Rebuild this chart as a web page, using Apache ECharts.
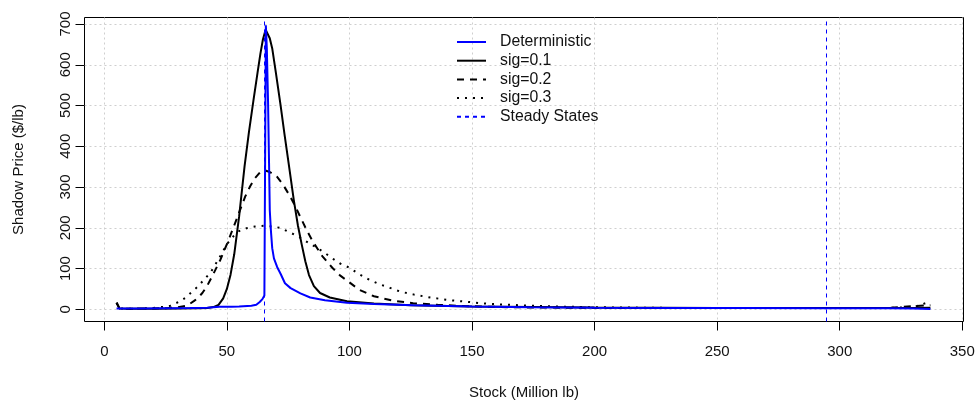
<!DOCTYPE html>
<html>
<head>
<meta charset="utf-8">
<script src="https://cdn.jsdelivr.net/npm/echarts@6/dist/echarts.min.js"></script>
<style>
  html, body { margin: 0; padding: 0; background: #ffffff; }
  #chart { width: 977px; height: 404px; }
</style>
</head>
<body>
<div id="chart"></div>
<script>
// Axis ticks
const xTicks = [0, 50, 100, 150, 200, 250, 300, 350];
const yTicks = [0, 100, 200, 300, 400, 500, 600, 700];

// Steady-state stock levels (vertical reference lines)
const steadyStates = [65.3, 294.6];

// Deterministic shadow price
const detStock = [5, 8, 15, 25, 35, 42, 47, 52, 55, 60, 62, 63.4, 64.5, 65.3, 65.6, 65.9, 66.3, 66.8, 67.2, 67.5, 68.0, 68.5, 69.2, 70.5, 72, 73.7, 76, 80, 84, 90, 99, 110, 126, 150, 174, 200, 230, 260, 295, 320, 330, 337];
const detPrice = [2, 2, 2, 2.5, 3, 4, 6, 6.5, 7, 9, 11, 18, 25, 34, 36, 697, 640, 509, 360, 243, 190, 150, 125, 104, 86, 64, 52, 39, 29, 22, 16, 13, 10, 7, 5, 4, 3.5, 3, 2.5, 2.5, 2, 1];

// sig = 0.1
const sig1Stock = [5, 6.2, 10, 20, 30, 38, 42, 44.5, 46.6, 48.5, 50, 51.5, 53, 55, 57.2, 59, 60.9, 62.5, 63.7, 64.7, 65.8, 66.6, 67.5, 68.5, 70, 71.9, 73.5, 75.3, 77.3, 79, 80.5, 82, 83.5, 85.5, 88, 92, 99, 110, 125, 150, 200, 250, 300, 320, 330, 337];
const sig1Price = [16, 2, 1.5, 1.5, 2, 2.5, 3.5, 5.5, 11, 27, 50, 85, 135, 228, 350, 435, 515, 580, 628, 662, 686, 683, 665, 640, 580, 501, 430, 354, 268, 205, 160, 118, 84, 57, 40, 29, 20, 14, 10, 7, 4.5, 3.5, 3, 3, 3, 4];

// sig = 0.2
const sig2Stock = [5, 6.2, 10, 20, 26, 30, 33, 35, 36.5, 38, 40, 42, 44.5, 47.3, 50.7, 53, 55.4, 57.5, 59.5, 61.5, 63.5, 65.4, 67.5, 70.5, 73, 75.5, 77.5, 80, 82.5, 85, 89, 93, 96, 100, 104, 110, 118, 126, 136, 147, 167, 200, 250, 300, 320, 330, 337];
const sig2Price = [16, 2, 1.5, 2, 3, 5, 8, 14, 20, 27, 40, 58, 87, 121, 170, 206, 244, 277, 302, 322, 336, 341, 337, 325, 305, 280, 258, 226, 195, 167, 130, 102, 84, 66, 48, 32, 21, 15, 11, 8, 5, 3.5, 3, 3, 3.5, 8, 10];

// sig = 0.3
const sig3Stock = [5, 6.2, 10, 15, 20, 24, 27, 30.3, 33, 35, 38, 41.2, 43.5, 46, 48, 50, 52.8, 55, 58, 61.5, 65.4, 68.5, 71.8, 74.5, 78.7, 82, 86.9, 89.6, 92.3, 96, 100, 104, 107.3, 112, 116.8, 121, 126.4, 133, 140, 147, 153.7, 160, 167.3, 180, 200, 230, 260, 300, 320, 330, 337];
const sig3Price = [16, 2, 1.5, 2, 3.5, 6, 9, 18, 28, 39, 55, 76, 92, 117, 138, 160, 180, 192, 199, 203, 205, 203, 200, 192, 180, 168, 150, 140, 128, 113, 102, 86, 75, 62, 52, 43, 36, 29, 23, 19, 15, 12.5, 10.5, 7.5, 5, 3.5, 3, 3, 3.5, 5, 19];

const FONT = '"Liberation Sans", Arial, Helvetica, sans-serif';
const TEXT = '#111111';

function pairs(xs, ys) {
  return xs.map(function (x, i) { return [x, ys[i]]; });
}

const chart = echarts.init(document.getElementById('chart'), null, { renderer: 'canvas' });

const gridLine = { show: true, lineStyle: { color: '#cfcfcf', width: 1, type: [2, 3] } };

chart.setOption({
  animation: false,
  backgroundColor: '#ffffff',
  grid: {
    left: 84.5, right: 13.5, top: 17.5, bottom: 82.5,
    outerBoundsMode: 'none', containLabel: false,
    show: true, borderColor: '#000000', borderWidth: 1, backgroundColor: 'transparent'
  },
  legend: {
    orient: 'vertical',
    left: 456, top: 34, padding: 0,
    itemWidth: 29, itemHeight: 12, itemGap: 2.7,
    // line samples only, no point marker
    itemStyle: { color: 'rgba(0,0,0,0)', borderWidth: 0, opacity: 0 },
    textStyle: { fontFamily: FONT, fontSize: 15.8, lineHeight: 16, color: TEXT, padding: [0, 0, 0, 9] },
    data: ['Deterministic', 'sig=0.1', 'sig=0.2', 'sig=0.3', 'Steady States']
  },
  xAxis: {
    type: 'value',
    min: -8.08, max: 350.5,
    name: 'Stock (Million lb)',
    nameLocation: 'middle', nameGap: 64,
    nameTextStyle: { fontFamily: FONT, fontSize: 15, color: TEXT },
    axisLine: { show: false, onZero: false },
    axisTick: { show: true, inside: false, length: 9, lineStyle: { color: '#000' }, customValues: xTicks },
    axisLabel: { show: true, margin: 23, fontFamily: FONT, fontSize: 15, color: TEXT, customValues: xTicks },
    splitLine: gridLine
  },
  yAxis: {
    type: 'value',
    min: -29.9, max: 716.0,
    name: 'Shadow Price ($/lb)',
    nameLocation: 'middle', nameGap: 58, nameRotate: 90,
    nameTextStyle: { fontFamily: FONT, fontSize: 15, color: TEXT },
    axisLine: { show: false, onZero: false },
    axisTick: { show: true, inside: false, length: 9, lineStyle: { color: '#000' }, customValues: yTicks },
    axisLabel: { show: true, margin: 11, rotate: 90, fontFamily: FONT, fontSize: 15, color: TEXT, customValues: yTicks },
    splitLine: gridLine
  },
  series: [
    {
      name: 'sig=0.1', type: 'line', z: 3, symbol: 'none', smooth: false,
      lineStyle: { color: '#000000', width: 2, type: 'solid' },
      itemStyle: { color: '#000000' },
      data: pairs(sig1Stock, sig1Price)
    },
    {
      name: 'sig=0.2', type: 'line', z: 3, symbol: 'none', smooth: false,
      lineStyle: { color: '#000000', width: 2, type: [7, 6] },
      itemStyle: { color: '#000000' },
      data: pairs(sig2Stock, sig2Price)
    },
    {
      name: 'sig=0.3', type: 'line', z: 3, symbol: 'none', smooth: false,
      lineStyle: { color: '#000000', width: 2, type: [2, 6] },
      itemStyle: { color: '#000000' },
      data: pairs(sig3Stock, sig3Price)
    },
    {
      name: 'Deterministic', type: 'line', z: 4, symbol: 'none', smooth: false,
      lineStyle: { color: '#0000ff', width: 2, type: 'solid' },
      itemStyle: { color: '#0000ff' },
      data: pairs(detStock, detPrice)
    },
    {
      name: 'Steady States', type: 'line', z: 5, symbol: 'none',
      lineStyle: { color: '#0000ff', width: 1, type: [4, 4] },
      itemStyle: { color: '#0000ff' },
      data: [],
      markLine: {
        silent: true,
        symbol: ['none', 'none'],
        label: { show: false },
        lineStyle: { color: '#0000ff', width: 1, type: [4, 4] },
        data: steadyStates.map(function (v) { return { xAxis: v }; })
      }
    }
  ]
});
</script>
</body>
</html>
